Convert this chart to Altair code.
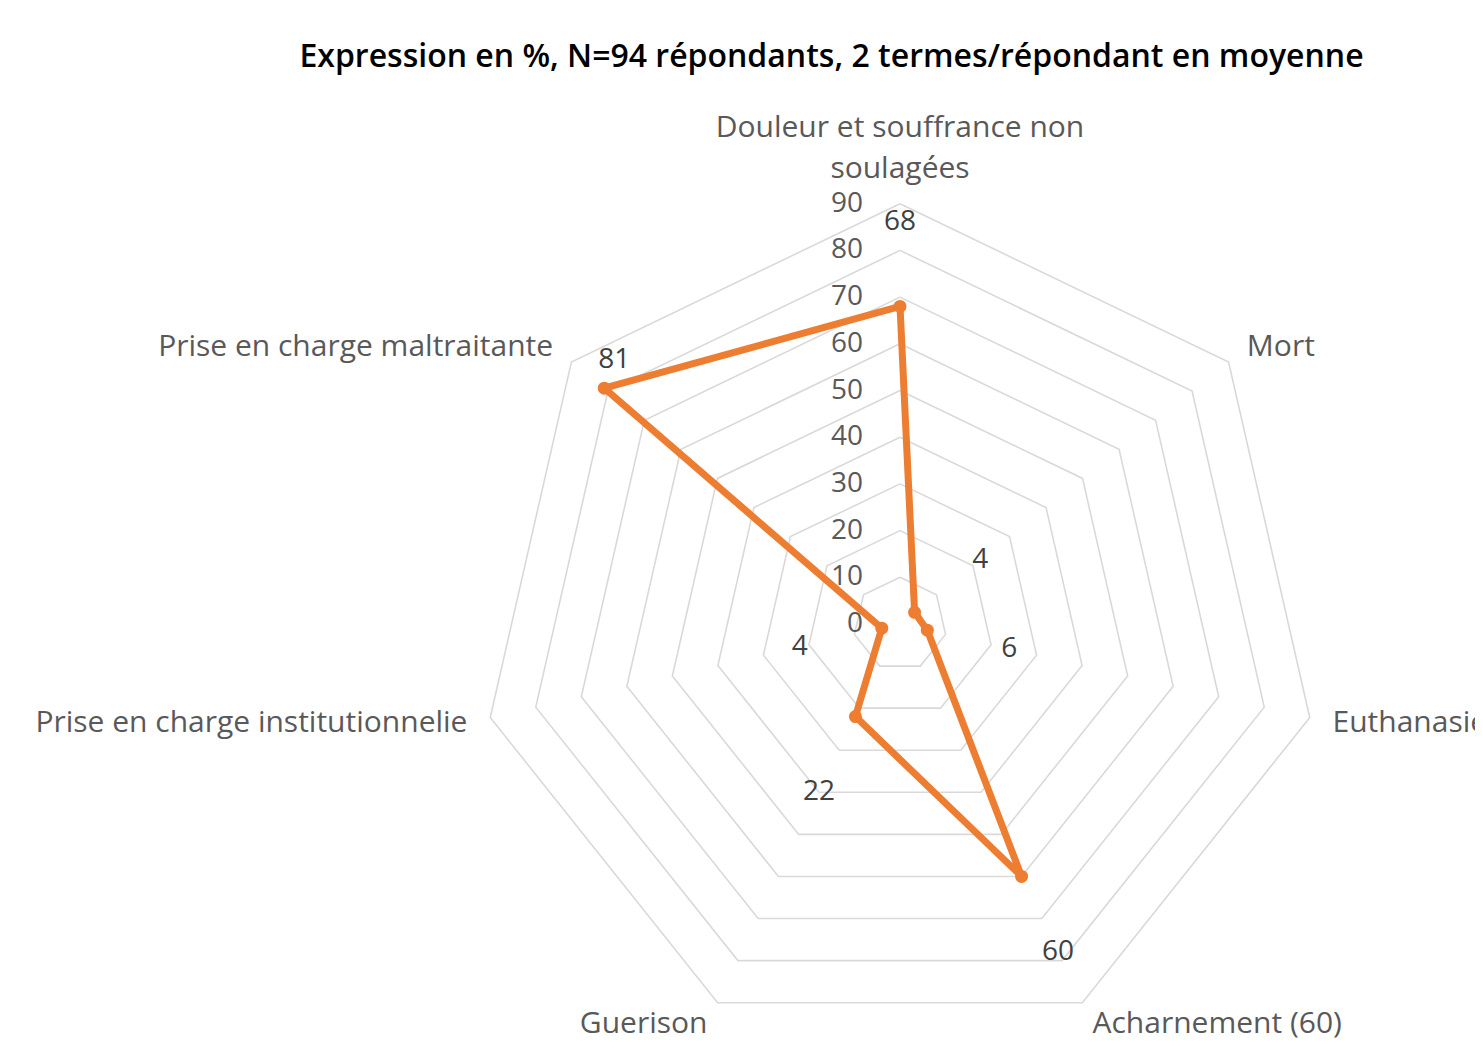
import math
import altair as alt
import pandas as pd

# ---------------- data ----------------
categories = [
    "Douleur et souffrance non\nsoulagées",
    "Mort",
    "Euthanasie",
    "Acharnement (60)",
    "Guerison",
    "Prise en charge institutionnelie",
    "Prise en charge maltraitante",
]
values = [68, 4, 6, 60, 22, 4, 81]
ring_levels = [10, 20, 30, 40, 50, 60, 70, 80, 90]
axis_ticks = [0, 10, 20, 30, 40, 50, 60, 70, 80, 90]
title_text = "Expression en %, N=94 répondants, 2 termes/répondant en moyenne"

# ---------------- layout / style ----------------
W, H = 1467, 954          # view size (px)
PAD_TOP = 80
CX, CY = 892, 536         # centre of radar inside the view (px)
PX_PER_UNIT = 4.67
LABEL_R = 95              # category labels just outside the outer ring
VALUE_LABEL_GAP = 18      # data labels placed outward along the spoke

FONT = "Open Sans"
ORANGE = "#ED7D31"
GRID = "#d9d9d9"
TXT = "#595959"

n = len(categories)
angles = [2 * math.pi * i / n for i in range(n)]


def polar(r, a):
    return r * math.sin(a), r * math.cos(a)


# rings
ring_rows = []
for lvl in ring_levels:
    for k in range(n + 1):
        x, y = polar(lvl, angles[k % n])
        ring_rows.append({"level": lvl, "k": k, "x": x, "y": y})
rings_df = pd.DataFrame(ring_rows)

# data polygon
line_rows = []
for k in range(n + 1):
    x, y = polar(values[k % n], angles[k % n])
    line_rows.append({"k": k, "x": x, "y": y})
line_df = pd.DataFrame(line_rows)

pts_df = pd.DataFrame(
    [{"cat": categories[i], "v": values[i],
      "x": polar(values[i], angles[i])[0], "y": polar(values[i], angles[i])[1]}
     for i in range(n)]
)

# value labels
vl_rows = []
for i in range(n):
    special = values[i] == max(values)
    r = values[i] if special else values[i] + VALUE_LABEL_GAP
    x, y = polar(r, angles[i])
    vl_rows.append({"label": str(values[i]), "x": x, "y": y, "special": special})
vl_df = pd.DataFrame(vl_rows)

# category labels
cl_rows = []
for i in range(n):
    x, y = polar(LABEL_R, angles[i])
    s = math.sin(angles[i])
    side = "center" if abs(s) < 1e-6 else ("left" if s > 0 else "right")
    cl_rows.append({"label": categories[i], "x": x, "y": y, "side": side})
cl_df = pd.DataFrame(cl_rows)

# axis tick labels (along the first spoke)
ax_df = pd.DataFrame([{"label": str(t), "x": 0.0, "y": float(t)} for t in axis_ticks])

# ---------------- scales ----------------
x_dom = [-CX / PX_PER_UNIT, (W - CX) / PX_PER_UNIT]
y_dom = [-(H - CY) / PX_PER_UNIT, CY / PX_PER_UNIT]
X = alt.X("x:Q", scale=alt.Scale(domain=x_dom, nice=False, zero=False), axis=None)
Y = alt.Y("y:Q", scale=alt.Scale(domain=y_dom, nice=False, zero=False), axis=None)

rings = alt.Chart(rings_df).mark_line(color=GRID, strokeWidth=1.6).encode(
    x=X, y=Y, detail="level:N", order="k:Q"
)
line = alt.Chart(line_df).mark_line(
    color=ORANGE, strokeWidth=7, strokeJoin="round"
).encode(x=X, y=Y, order="k:Q")
pts = alt.Chart(pts_df).mark_circle(size=170, color=ORANGE, opacity=1).encode(x=X, y=Y)

vlabels = alt.Chart(vl_df).transform_filter("!datum.special").mark_text(
    font=FONT, fontSize=28, color="#404040", align="center", baseline="middle"
).encode(x=X, y=Y, text="label:N")
vlabel_sp = alt.Chart(vl_df).transform_filter("datum.special").mark_text(
    font=FONT, fontSize=28, color="#404040", align="center", baseline="middle",
    dx=10, dy=-28
).encode(x=X, y=Y, text="label:N")

axlabels = alt.Chart(ax_df).mark_text(
    font=FONT, fontSize=28, color=TXT, align="right", baseline="middle", dx=-37
).encode(x=X, y=Y, text="label:N")

cat_center = alt.Chart(cl_df).transform_filter("datum.side == 'center'").mark_text(
    font=FONT, fontSize=30, color=TXT, align="center", baseline="bottom",
    lineBreak="\n", lineHeight=41, dy=-37
).encode(x=X, y=Y, text="label:N")
cat_left = alt.Chart(cl_df).transform_filter("datum.side == 'left'").mark_text(
    font=FONT, fontSize=30, color=TXT, align="left", baseline="middle"
).encode(x=X, y=Y, text="label:N")
cat_right = alt.Chart(cl_df).transform_filter("datum.side == 'right'").mark_text(
    font=FONT, fontSize=30, color=TXT, align="right", baseline="middle"
).encode(x=X, y=Y, text="label:N")

chart = (
    alt.layer(rings, line, pts, vlabels, vlabel_sp, axlabels, cat_center, cat_left, cat_right)
    .properties(
        width=W,
        height=H,
        title=alt.TitleParams(
            text=title_text, font=FONT, fontSize=32, fontWeight=600,
            color="#000000", anchor="middle", dx=90, offset=14
        ),
        autosize=alt.AutoSizeParams(type="none"),
        padding={"left": 0, "top": PAD_TOP, "right": 0, "bottom": 0},
    )
    .configure_view(stroke=None)
)

chart.save("out.html", embed_options={"renderer": "svg", "actions": False})
